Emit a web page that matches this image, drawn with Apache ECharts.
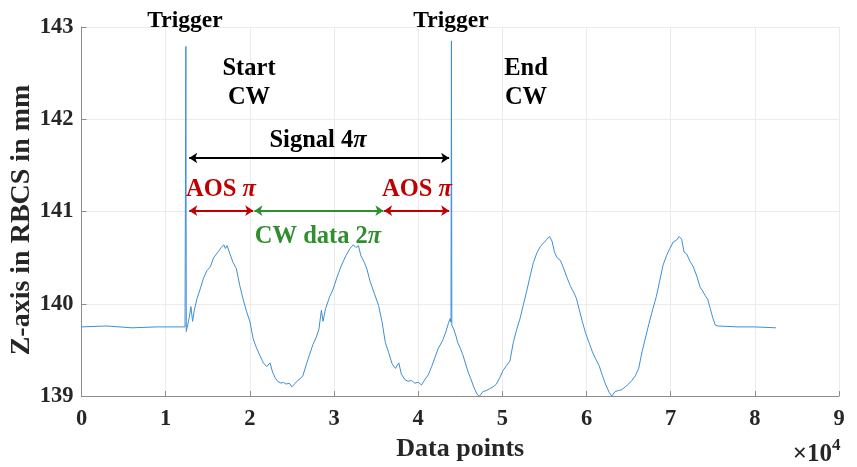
<!DOCTYPE html>
<html>
<head>
<meta charset="utf-8">
<script src="https://cdn.jsdelivr.net/npm/echarts@6/dist/echarts.min.js"></script>
<style>
  html, body { margin: 0; padding: 0; background: #fff; }
  #chart { width: 857px; height: 467px; }
</style>
</head>
<body>
<div id="chart"></div>
<script>
// data points (raw count) and Z position in mm
const dataPoints = [
  0, 3000, 6000, 9000, 12300, 12400, 12450, 12600, 12800, 13000, 13200, 13400, 13700,
  14100, 14500, 14900, 15300, 15700, 16200, 16600, 16900, 17100, 17300, 17600, 18000,
  18400, 18800, 19200, 19600, 20000, 20400, 20800, 21200, 21600, 22000, 22400, 22700,
  23000, 23300, 23700, 24000, 24300, 24700, 25000, 25300, 25700, 26000, 26300, 26700,
  27100, 27500, 27900, 28200, 28500, 28700, 29000, 29500, 29900, 30400, 30900, 31400,
  31900, 32300, 32600, 32900, 33200, 33600, 33900, 34300, 34800, 35300, 35700, 36100,
  36500, 36900, 37300, 37700, 38000, 38400, 38800, 39200, 39600, 40000, 40400, 40800,
  41200, 41600, 42000, 42400, 42900, 43300, 43600, 43800, 43900, 43950, 44000, 44200,
  44500, 44700, 45000, 45300, 45600, 45900, 46200, 46600, 47000, 47300, 47700, 48100,
  48500, 48900, 49300, 49700, 50100, 50500, 50900, 51300, 51700, 52100, 52500, 52900,
  53300, 53700, 54100, 54500, 54900, 55300, 55600, 55900, 56200, 56500, 56900, 57300,
  57700, 58100, 58500, 58800, 59100, 59500, 59900, 60300, 60700, 61100, 61500, 61900,
  62300, 62700, 63000, 63400, 63800, 64200, 64600, 65000, 65400, 65800, 66200, 66600,
  67000, 67400, 67900, 68300, 68700, 69100, 69500, 69900, 70300, 70700, 71000, 71300,
  71600, 71900, 72300, 72700, 73100, 73500, 73800, 74100, 74400, 74700, 75000, 75300,
  75600, 78000, 80000, 82500
];
const zPos = [
  139.75, 139.76, 139.74, 139.75, 139.75, 142.79, 139.70, 139.72, 139.85, 139.97, 139.81, 139.93, 140.05,
  140.16, 140.28, 140.36, 140.40, 140.50, 140.56, 140.61, 140.64, 140.60, 140.63, 140.55, 140.45,
  140.38, 140.20, 140.05, 139.92, 139.81, 139.62, 139.52, 139.44, 139.36, 139.32, 139.36, 139.26,
  139.20, 139.16, 139.14, 139.15, 139.13, 139.14, 139.10, 139.13, 139.17, 139.19, 139.22, 139.34,
  139.45, 139.56, 139.64, 139.72, 139.93, 139.81, 139.95, 140.08, 140.16, 140.30, 140.42, 140.52,
  140.60, 140.64, 140.61, 140.63, 140.52, 140.45, 140.38, 140.24, 140.11, 139.98, 139.81, 139.58,
  139.47, 139.35, 139.30, 139.36, 139.24, 139.18, 139.16, 139.17, 139.14, 139.15, 139.12, 139.18,
  139.23, 139.32, 139.42, 139.52, 139.60, 139.70, 139.79, 139.84, 139.80, 142.85, 139.77, 139.73,
  139.65, 139.58, 139.52, 139.45, 139.36, 139.27, 139.20, 139.10, 139.02, 139.00, 139.05, 139.06,
  139.08, 139.10, 139.13, 139.20, 139.28, 139.33, 139.38, 139.58, 139.72, 139.84, 139.99, 140.14,
  140.30, 140.45, 140.55, 140.62, 140.66, 140.70, 140.73, 140.68, 140.56, 140.50, 140.47, 140.38,
  140.28, 140.19, 140.12, 140.06, 139.95, 139.81, 139.68, 139.58, 139.48, 139.40, 139.33, 139.22,
  139.12, 139.04, 139.00, 139.05, 139.06, 139.07, 139.10, 139.13, 139.17, 139.22, 139.30, 139.48,
  139.63, 139.78, 139.95, 140.08, 140.25, 140.42, 140.52, 140.60, 140.67, 140.69, 140.73, 140.70,
  140.56, 140.54, 140.46, 140.40, 140.30, 140.18, 140.14, 140.09, 140.05, 139.95, 139.85, 139.77,
  139.76, 139.75, 139.75, 139.74
];
const xTicks = [0, 1, 2, 3, 4, 5, 6, 7, 8, 9];   // x 10^4
const yTicks = [139, 140, 141, 142, 143];

// annotation arrows: [x start, x end, z level]
const signalSpan = [12800, 43680, 141.58];
const aosStartSpan = [12800, 20400, 141.01];
const cwDataSpan = [20550, 35870, 141.01];
const aosEndSpan = [35950, 43680, 141.01];

const serif = '"Liberation Serif", "Times New Roman", serif';
const red = '#c00000';
const green = '#2f8f2f';

const chart = echarts.init(document.getElementById('chart'));

function span(s, color, width) {
  return [
    { coord: [s[0], s[2]], lineStyle: { color: color, width: width, type: 'solid' } },
    { coord: [s[1], s[2]] }
  ];
}

function label(text, x, y, color, size) {
  size = size || 24.5;
  color = color || '#000';
  return {
    type: 'text', x: x, y: y, silent: true, z: 100,
    style: {
      text: text, align: 'center', verticalAlign: 'middle',
      fill: color, fontFamily: serif, fontWeight: 'bold', fontSize: size,
      rich: {
        p: { fontStyle: 'italic', fontFamily: serif, fontWeight: 'bold', fontSize: size, fill: color }
      }
    }
  };
}

const option = {
  animation: false,
  backgroundColor: '#fff',
  grid: { left: 81.5, right: 18, top: 27, bottom: 69 },
  xAxis: {
    type: 'value',
    min: xTicks[0] * 10000,
    max: xTicks[xTicks.length - 1] * 10000,
    interval: 10000,
    name: 'Data points',
    nameLocation: 'middle',
    nameGap: 38,
    nameTextStyle: { fontFamily: serif, fontWeight: 'bold', fontSize: 26, color: '#262626' },
    axisLine: { lineStyle: { color: '#8c8c8c', width: 1 } },
    axisTick: { inside: true, length: 5, lineStyle: { color: '#8c8c8c' } },
    axisLabel: {
      margin: 12,
      fontFamily: serif, fontWeight: 'bold', fontSize: 22.5, color: '#262626',
      formatter: v => String(v / 10000)
    },
    splitLine: { show: true, lineStyle: { color: '#ebebeb', width: 1 } }
  },
  yAxis: {
    type: 'value',
    min: yTicks[0],
    max: yTicks[yTicks.length - 1],
    interval: 1,
    axisLine: { show: true, lineStyle: { color: '#8c8c8c', width: 1 } },
    axisTick: { show: true, inside: true, length: 5, lineStyle: { color: '#8c8c8c' } },
    axisLabel: {
      margin: 8,
      fontFamily: serif, fontWeight: 'bold', fontSize: 22.5, color: '#262626'
    },
    splitLine: { show: true, lineStyle: { color: '#ebebeb', width: 1 } }
  },
  series: [
    {
      type: 'line',
      data: dataPoints.map((d, i) => [d, zPos[i]]),
      showSymbol: false,
      lineStyle: { color: '#3d8fd4', width: 1 },
      z: 3
    },
    {
      type: 'line',
      data: [],
      silent: true,
      markLine: {
        silent: true,
        symbol: ['arrow', 'arrow'],
        symbolSize: [8, 8],
        label: { show: false },
        emphasis: { disabled: true },
        data: [
          span(signalSpan, '#000', 2),
          span(aosStartSpan, red, 2),
          span(cwDataSpan, green, 2),
          span(aosEndSpan, red, 2)
        ]
      }
    }
  ],
  graphic: [
    {
      type: 'text', x: 22, y: 220, rotation: Math.PI / 2, silent: true,
      style: {
        text: 'Z-axis in RBCS in mm', align: 'center', verticalAlign: 'middle',
        fill: '#262626', fontFamily: serif, fontWeight: 'bold', fontSize: 28
      }
    },
    label('Trigger', 185, 21, '#000', 23.5),
    label('Trigger', 451, 21, '#000', 23.5),
    label('Start', 249, 69),
    label('CW', 249, 98),
    label('End', 526, 69),
    label('CW', 526, 98),
    label('Signal 4{p|π}', 318, 141),
    label('AOS {p|π}', 221, 190, red),
    label('AOS {p|π}', 417, 190, red),
    label('CW data 2{p|π}', 318, 237, green),
    {
      type: 'text', x: 832, y: 455, silent: true,
      style: {
        text: '×10', align: 'right', verticalAlign: 'middle',
        fill: '#262626', fontFamily: serif, fontWeight: 'bold', fontSize: 25
      }
    },
    {
      type: 'text', x: 832, y: 437, silent: true,
      style: {
        text: '4', align: 'left', verticalAlign: 'top',
        fill: '#262626', fontFamily: serif, fontWeight: 'bold', fontSize: 17
      }
    }
  ]
};

chart.setOption(option);
</script>
</body>
</html>
